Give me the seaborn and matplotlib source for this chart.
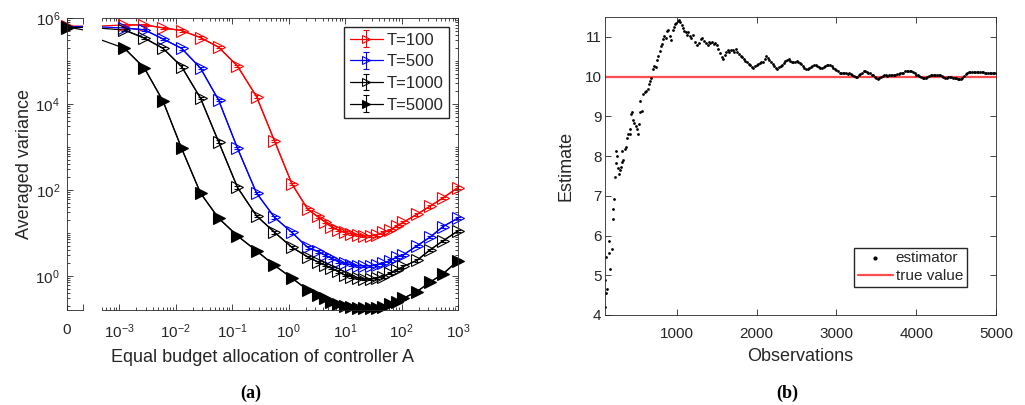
import numpy as np
import pandas as pd
import matplotlib
matplotlib.use("Agg")
import matplotlib.pyplot as plt
import seaborn as sns
from matplotlib.ticker import FixedLocator, FixedFormatter, LogLocator, NullFormatter, FuncFormatter

# ---------------- data: panel (a) ----------------
# x = 0 is shown on the broken-off axis; 2.8e-4 lies just left of the visible log range
alloc_x = [0, 2.8e-4, 1.25e-3, 2.82e-3, 6.0e-3, 1.28e-2, 2.77e-2, 5.77e-2, 0.125, 0.272,
           0.565, 1.15, 2.17, 3.26, 4.34, 5.72, 7.52, 9.8, 12.9, 16.8, 21.7, 28.6,
           36.8, 48.0, 62.5, 82.2, 108, 188, 319, 543, 1000]

var_T100 = [6.5e5, 6.3e5, 6.9e5, 6.9e5, 5.9e5, 5.1e5, 3.5e5, 2.1e5, 7.6e4, 1.48e4,
            1.38e3, 138, 36, 24, 18.3, 14.0, 11.7, 10.2, 9.5, 9.0, 8.5, 8.5,
            9.0, 10.2, 11.5, 14.3, 17.7, 27, 41.5, 65, 113]
var_T500 = [6.3e5, 6.4e5, 5.85e5, 5.3e5, 3.25e5, 1.97e5, 6.8e4, 1.24e4, 933, 84,
            23, 10.2, 4.6, 3.7, 3.08, 2.58, 2.15, 1.97, 1.80, 1.71, 1.71, 1.71,
            1.80, 1.97, 2.27, 2.72, 3.08, 5.0, 7.9, 14.0, 22.0]
var_T1000 = [6.0e5, 6.1e5, 5.25e5, 3.4e5, 1.97e5, 7.4e4, 1.36e4, 1.33e3, 114, 24.8,
             10.3, 4.6, 2.77, 2.12, 1.80, 1.51, 1.26, 1.05, 0.96, 0.885, 0.84, 0.84,
             0.885, 0.96, 1.16, 1.38, 1.65, 2.29, 4.0, 6.5, 11.1]
var_T5000 = [6.2e5, 4.0e5, 1.97e5, 6.8e4, 1.17e4, 930, 84, 22, 8.5, 3.8,
             1.75, 0.885, 0.47, 0.36, 0.30, 0.25, 0.223, 0.20, 0.187, 0.177, 0.174, 0.174,
             0.18, 0.193, 0.223, 0.25, 0.30, 0.43, 0.71, 1.11, 2.25]

series_labels = ["T=100", "T=500", "T=1000", "T=5000"]
series_values = [var_T100, var_T500, var_T1000, var_T5000]
REL_ERR = 0.07
x_decades = [1e-3, 1e-2, 1e-1, 1e0, 1e1, 1e2, 1e3]

# ---------------- data: panel (b) ----------------
obs_early = [100, 105, 118, 130, 168, 151, 118, 189, 147, 202, 206, 214, 222, 277, 243,
             235, 252, 264, 285, 298, 310, 327, 318, 348, 360, 377, 390, 410, 419, 432,
             444, 452, 469, 486, 503, 511, 528, 536, 561, 544, 578, 603, 620, 640, 653,
             670, 682, 703, 720, 737, 753, 766, 787, 799, 812, 829, 845, 862, 879, 895,
             912, 925, 946, 962, 979, 996, 1012, 1029, 1046, 1063, 1079, 1096, 1113, 1130,
             1146, 1163, 1180, 1197, 1222, 1247, 1272, 1297, 1314, 1339, 1364, 1389]
est_early = [4.19, 4.88, 4.55, 4.65, 5.15, 5.57, 5.47, 5.67, 5.86, 6.41, 6.67, 6.93, 7.47, 7.55, 7.82,
             8.12, 7.99, 7.70, 7.65, 7.72, 7.84, 7.90, 8.13, 8.17, 8.22, 8.45, 8.55, 8.67, 8.55, 9.05,
             9.12, 8.92, 8.84, 8.76, 8.67, 8.55, 8.80, 9.12, 9.13, 9.38, 9.57, 9.62, 9.65, 9.70, 9.82,
             9.88, 9.97, 10.20, 10.26, 10.23, 10.43, 10.51, 10.65, 10.76, 10.82, 10.95, 11.03, 10.98, 11.15, 11.18,
             11.03, 10.93, 11.18, 11.26, 11.32, 11.34, 11.40, 11.43, 11.37, 11.30, 11.23, 11.15, 11.12, 11.05,
             11.13, 11.03, 10.98, 11.05, 10.87, 10.80, 10.84, 10.95, 10.98, 10.90, 10.84, 10.80]
obs_late = list(range(1400, 5001, 20))
est_late = [10.86, 10.84, 10.86, 10.83, 10.84, 10.80, 10.69, 10.59, 10.49, 10.44,
            10.55, 10.63, 10.66, 10.63, 10.68, 10.66, 10.63, 10.69, 10.63, 10.58,
            10.53, 10.49, 10.44, 10.40, 10.36, 10.32, 10.28, 10.24, 10.22, 10.26,
            10.29, 10.32, 10.34, 10.36, 10.38, 10.44, 10.53, 10.47, 10.41, 10.36,
            10.31, 10.26, 10.21, 10.18, 10.23, 10.26, 10.29, 10.34, 10.39, 10.42,
            10.44, 10.39, 10.38, 10.36, 10.38, 10.39, 10.38, 10.34, 10.31, 10.26,
            10.22, 10.19, 10.19, 10.22, 10.23, 10.26, 10.28, 10.28, 10.26, 10.23,
            10.22, 10.22, 10.25, 10.26, 10.28, 10.29, 10.30, 10.26, 10.22, 10.18,
            10.16, 10.13, 10.09, 10.08, 10.08, 10.08, 10.08, 10.06, 10.08, 10.06,
            10.04, 10.01, 9.98, 9.99, 10.03, 10.06, 10.10, 10.13, 10.13, 10.12,
            10.09, 10.08, 10.04, 10.03, 9.99, 9.96, 9.94, 9.97, 10.00, 10.02,
            10.03, 10.03, 10.02, 10.03, 10.03, 10.03, 10.03, 10.05, 10.06, 10.07,
            10.08, 10.08, 10.10, 10.13, 10.14, 10.15, 10.14, 10.13, 10.11, 10.08,
            10.05, 10.03, 10.01, 9.99, 9.97, 9.97, 9.97, 9.98, 10.01, 10.03,
            10.04, 10.05, 10.05, 10.04, 10.03, 10.03, 10.01, 9.99, 9.97, 9.97,
            9.98, 9.99, 9.98, 9.97, 9.97, 9.96, 9.95, 9.93, 9.93, 9.96,
            10.01, 10.06, 10.09, 10.11, 10.12, 10.12, 10.11, 10.11, 10.12, 10.11,
            10.11, 10.12, 10.11, 10.10, 10.10, 10.10, 10.09, 10.09, 10.08, 10.08,
            10.08]
TRUE_VALUE = 10
obs_range = [100, 5000]

# ---------------- style ----------------
sns.set_theme(style="white")
TXT = "#262626"
plt.rcParams["font.family"] = ["Liberation Sans", "DejaVu Sans"]
plt.rcParams.update({
    "axes.edgecolor": TXT, "axes.linewidth": 0.6,
    "text.color": TXT, "axes.labelcolor": TXT,
    "xtick.color": TXT, "ytick.color": TXT,
})

colors = {"T=100": "#ff0000", "T=500": "#0000ff", "T=1000": "#000000", "T=5000": "#000000"}
filled = {"T=100": False, "T=500": False, "T=1000": False, "T=5000": True}

W, H = 1025, 405
fig = plt.figure(figsize=(W / 100, H / 100), dpi=100)


def rect(l, t, r, b):
    return [l / W, 1 - b / H, (r - l) / W, (b - t) / H]


ax0 = fig.add_axes(rect(67, 18, 83, 310))
ax1 = fig.add_axes(rect(102, 18, 458, 310), sharey=ax0)
ax2 = fig.add_axes(rect(605, 17, 996, 315))

# long-form frame for panel (a)
rows = []
for lab, vals in zip(series_labels, series_values):
    for xv, yv in zip(alloc_x, vals):
        rows.append({"x": xv, "y": yv, "T": lab})
df = pd.DataFrame(rows)

ax0.set_yscale("log")
ax1.set_xscale("log")

# lines
sns.lineplot(data=df, x="x", y="y", hue="T", palette=colors, estimator=None, sort=False,
             legend=False, ax=ax0, linewidth=0.9)
sns.lineplot(data=df[df.x > 0], x="x", y="y", hue="T", palette=colors, estimator=None,
             sort=False, legend=False, ax=ax1, linewidth=0.9)

handles = []
for lab in series_labels:
    c = colors[lab]
    fc = c if filled[lab] else "none"
    d = df[df["T"] == lab]
    # markers on broken-off zero axis
    d0 = d[d.x == 0]
    m0 = ax0.plot(d0.x, d0.y, ls="none", marker=">", ms=9, mfc=fc, mec=c, mew=0.8)[0]
    m0.set_clip_on(False)
    # markers + small error bars on the log axis
    dm = d[d.x >= 5e-4]
    ys = dm.y.values
    cont = ax1.errorbar(dm.x.values, ys, yerr=[ys - ys / (1 + REL_ERR), ys * REL_ERR],
                        fmt="-", marker=">", ms=9, mfc=fc, mec=c, mew=0.8, color=c,
                        ecolor=c, elinewidth=0.8, capsize=2.5, capthick=0.8, lw=0.9,
                        label=lab)
    for art in cont.get_children():
        art.set_clip_on(False)
    handles.append(cont)

ax1.set_xlim(5e-4, 1e3)
ax0.set_xlim(0, 1e-4)
ax0.set_ylim(0.16, 1e6)

ylog_fmt = FuncFormatter(lambda v, _: r"$\mathdefault{10^{%d}}$" % round(np.log10(v)))
ax0.yaxis.set_major_locator(FixedLocator([1, 1e2, 1e4, 1e6]))
ax0.yaxis.set_minor_locator(LogLocator(base=10, subs=np.arange(1, 10), numticks=100))
ax0.yaxis.set_major_formatter(ylog_fmt)
ax0.yaxis.set_minor_formatter(NullFormatter())
ax0.xaxis.set_major_locator(FixedLocator([0]))
ax0.xaxis.set_major_formatter(FixedFormatter(["0"]))
ax0.xaxis.set_minor_locator(FixedLocator([1e-4]))
ax0.xaxis.set_minor_formatter(NullFormatter())
ax0.xaxis.get_offset_text().set_visible(False)
ax0.spines["right"].set_visible(False)
ax0.tick_params(axis="both", which="both", direction="in", top=True, bottom=True,
                left=True, right=False, labelsize=11, width=0.6)
ax0.tick_params(axis="x", which="both", pad=9)
ax0.tick_params(axis="y", which="both", pad=5)
ax0.tick_params(which="major", length=4)
ax0.tick_params(which="minor", length=2.2)
ax0.tick_params(axis="x", which="minor", length=4)
ax0.set_xlabel("")
ax0.xaxis.label.set_visible(False)
ax0.set_ylabel("Averaged variance", fontsize=13, labelpad=2)

# x ticks only inside the visible log range
x_minor = [m * d for d in [1e-4] + x_decades[:-1] for m in range(2, 10) if 5e-4 <= m * d <= 1e3]
ax1.xaxis.set_major_locator(FixedLocator(x_decades))
ax1.xaxis.set_major_formatter(
    FuncFormatter(lambda v, _: r"$\mathdefault{10^{%d}}$" % round(np.log10(v))))
ax1.xaxis.set_minor_locator(FixedLocator(x_minor))
ax1.xaxis.set_minor_formatter(NullFormatter())
ax1.spines["left"].set_visible(False)
ax1.tick_params(axis="both", which="both", direction="in", top=True, bottom=True,
                left=False, right=True, labelleft=False, labelsize=11, width=0.6)
ax1.tick_params(axis="x", which="both", pad=9)
ax1.tick_params(which="major", length=4)
ax1.tick_params(which="minor", length=2.2)
ax1.set_xlabel("")
ax1.set_ylabel("")
ax1.xaxis.label.set_visible(False)
ax1.yaxis.label.set_visible(False)
ax1.yaxis.get_offset_text().set_visible(False)

ax1.legend(handles, series_labels, loc="upper right", bbox_to_anchor=(0.975, 0.970),
           borderaxespad=0, frameon=True, fancybox=False, edgecolor=TXT, framealpha=1,
           fontsize=12, markerscale=0.65, handlelength=2.0, handletextpad=0.2,
           labelspacing=0.4, borderpad=0.35)

fig.text(262.5 / W, 1 - 357 / H, "Equal budget allocation of controller A", fontsize=13,
         ha="center", va="center", color=TXT)
fig.text(251 / W, 1 - 393 / H, "(a)", fontsize=13, fontweight="bold",
         family="Liberation Serif", ha="center", va="center", color="black")

# ---------------- panel (b) ----------------
obs_all = obs_early + obs_late
est_all = est_early + est_late
sns.lineplot(x=obs_range, y=[TRUE_VALUE, TRUE_VALUE], color="#ff4d4d", linewidth=1.6,
             ax=ax2, label="true value", zorder=1)
sns.scatterplot(x=obs_all, y=est_all, color="black", s=4, linewidth=0, ax=ax2,
                label="estimator", zorder=2)
ax2.set_xlim(100, 5000)
ax2.set_ylim(4, 11.5)
ax2.set_xticks([1000, 2000, 3000, 4000, 5000])
ax2.set_yticks(list(range(4, 12)))
ax2.tick_params(axis="both", which="both", direction="in", top=True, bottom=True,
                left=True, right=True, labelsize=11, width=0.6, length=4)
ax2.tick_params(axis="x", pad=9)
ax2.tick_params(axis="y", pad=2.5)
ax2.set_xlabel("Observations", fontsize=13, labelpad=5)
ax2.set_ylabel("Estimate", fontsize=13, labelpad=7)
h, l = ax2.get_legend_handles_labels()
order = [l.index("estimator"), l.index("true value")]
ax2.legend([h[i] for i in order], [l[i] for i in order], loc="lower right",
           bbox_to_anchor=(0.926, 0.094), borderaxespad=0, frameon=True, fancybox=False,
           edgecolor=TXT, framealpha=1, fontsize=11, handlelength=2.3,
           handletextpad=0.2, labelspacing=0.25, borderpad=0.25, markerscale=1.5)
fig.text(787 / W, 1 - 393 / H, "(b)", fontsize=13, fontweight="bold",
         family="Liberation Serif", ha="center", va="center", color="black")

fig.savefig("out.png", dpi=100)
